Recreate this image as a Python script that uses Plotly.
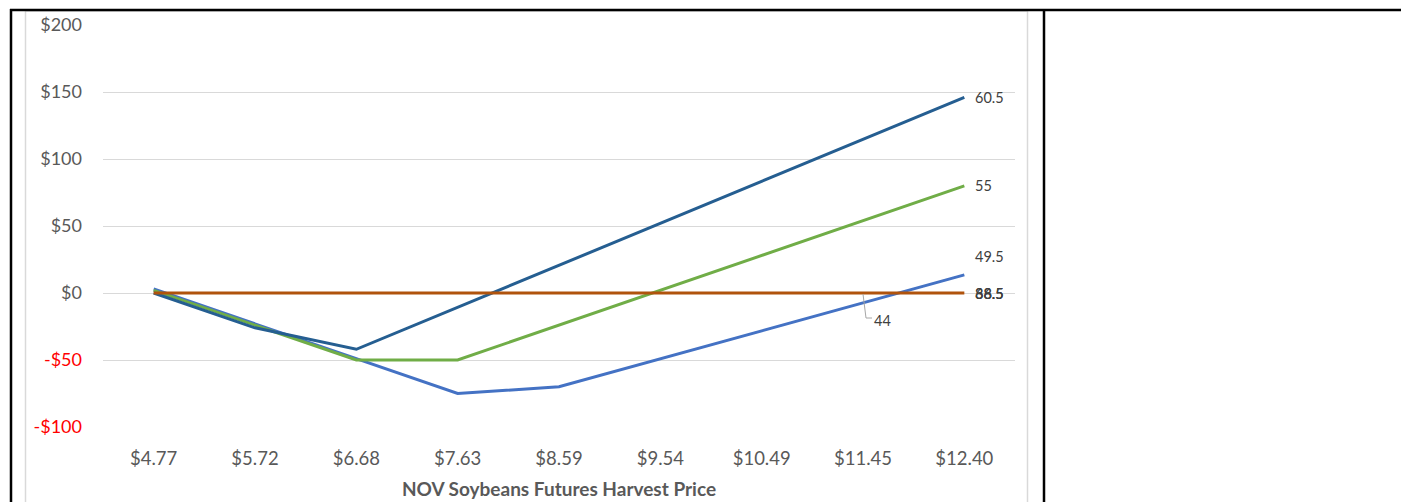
import plotly.graph_objects as go

# Harvest price scenarios (x categories)
prices = ["$4.77", "$5.72", "$6.68", "$7.63", "$8.59", "$9.54", "$10.49", "$11.45", "$12.40"]

# Net outcome per scenario for each strategy
strategy_a = [0, -26, -42, -10.7, 20.6, 51.9, 83.2, 114.5, 146]      # dark blue
strategy_b = [2, -24, -50, -50, -24, 2, 28, 54, 80]                 # green
strategy_c = [3, -23, -49, -75, -70, -49, -28, -7, 13.5]             # light blue
strategy_d = [0, 0, 0, 0, 0, 0, 0, 0, 0]                            # brown (flat)

# End-of-line labels
label_a = "60.5"
label_b = "55"
label_c = "49.5"
labels_d = ["66.5", "88.5", "38.5"]
label_d_mid = "44"

y_ticks = [-100, -50, 0, 50, 100, 150, 200]

def money(v):
    s = f"-${abs(v)}" if v < 0 else f"${v}"
    return f"<span style='color:#FF0000'>{s}</span>" if v < 0 else s

FONT = "Lato, 'Open Sans', sans-serif"
GRID = "#D9D9D9"

fig = go.Figure()
fig.add_trace(go.Scatter(x=prices, y=strategy_c, mode="lines",
                         line=dict(color="#4472C4", width=3)))
fig.add_trace(go.Scatter(x=prices, y=strategy_b, mode="lines",
                         line=dict(color="#70AD47", width=3)))
fig.add_trace(go.Scatter(x=prices, y=strategy_a, mode="lines",
                         line=dict(color="#255E91", width=3)))
fig.add_trace(go.Scatter(x=prices, y=strategy_d, mode="lines",
                         line=dict(color="#B0530C", width=3)))

lab_font = dict(family=FONT, size=14.5, color="#404040")
last = prices[-1]
fig.add_annotation(x=last, y=strategy_a[-1], text=label_a, showarrow=False,
                   xanchor="left", xshift=9, font=lab_font)
fig.add_annotation(x=last, y=strategy_b[-1], text=label_b, showarrow=False,
                   xanchor="left", xshift=9, font=lab_font)
fig.add_annotation(x=last, y=strategy_c[-1], text=label_c, showarrow=False,
                   xanchor="left", xshift=9, yshift=18, font=lab_font)
for t in labels_d:
    fig.add_annotation(x=last, y=strategy_d[-1], text=t, showarrow=False,
                       xanchor="left", xshift=9, font=lab_font)

# Mid-line label with an elbow leader line
fig.add_annotation(x=prices[7], y=strategy_d[7], text=label_d_mid, showarrow=False,
                   xanchor="left", yanchor="middle", xshift=9, yshift=-27, font=lab_font)

# Plot area geometry in pixels (used for frame decorations)
W, H = 1401, 502
L, R, T, B = 103, 386, 25, 75
pw, ph = W - L - R, H - T - B

def px(x):
    return (x - L) / pw

def py(y):
    return (H - B - y) / ph

shapes = []
# leader line for the "44" label
shapes.append(dict(type="path", xref="paper", yref="paper",
                   path=f"M {px(863)} {py(294)} L {px(866)} {py(318)} L {px(872)} {py(318)}",
                   line=dict(color="#A6A6A6", width=1)))
# light chart-area frame
for x in (25.5, 1027.5):
    shapes.append(dict(type="line", xref="paper", yref="paper",
                       x0=px(x), x1=px(x), y0=py(10.5), y1=py(H + 5),
                       line=dict(color=GRID, width=1.5)))
shapes.append(dict(type="line", xref="paper", yref="paper",
                   x0=px(25.5), x1=px(1027.5), y0=py(11), y1=py(11),
                   line=dict(color=GRID, width=1.5)))
# black table borders
shapes.append(dict(type="line", xref="paper", yref="paper",
                   x0=px(10), x1=px(W + 5), y0=py(10), y1=py(10),
                   line=dict(color="black", width=2.5)))
for x in (11, 1044):
    shapes.append(dict(type="line", xref="paper", yref="paper",
                       x0=px(x), x1=px(x), y0=py(9), y1=py(H + 5),
                       line=dict(color="black", width=2.5)))

fig.update_layout(
    width=W, height=H,
    margin=dict(l=L, r=R, t=T, b=B),
    paper_bgcolor="white", plot_bgcolor="white",
    showlegend=False,
    shapes=shapes,
    font=dict(family=FONT, color="#595959"),
    xaxis=dict(
        type="category", range=[-0.5, 8.5], automargin=False,
        showgrid=False, zeroline=False, showline=False, ticks="",
        tickfont=dict(family=FONT, size=18.5, color="#595959"),
        ticklabelstandoff=18,
        title=dict(text="<b>NOV Soybeans Futures Harvest Price</b>",
                   font=dict(family=FONT, size=19, color="#595959"), standoff=15),
    ),
    yaxis=dict(
        range=[-100, 200], tickvals=y_ticks, ticktext=[money(v) for v in y_ticks],
        automargin=False,
        showgrid=True, gridcolor=GRID, gridwidth=1,
        zeroline=False, showline=False, ticks="",
        tickfont=dict(family=FONT, size=18, color="#595959"),
        ticklabelstandoff=20,
    ),
)

fig.write_html("out.html")
